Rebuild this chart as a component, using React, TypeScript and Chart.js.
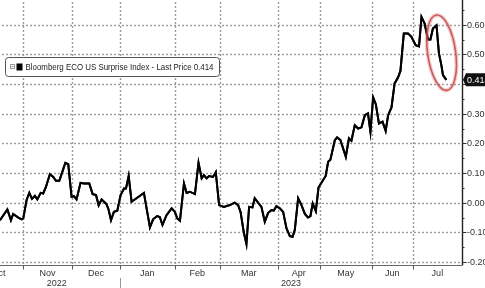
import React, { useEffect, useRef } from 'react';
import { Chart, registerables } from 'chart.js';

Chart.register(...registerables);

// x = business-day index counted from 1 Oct 2022
const dayIndex = [
  11.6, 14.9, 16.5, 17.5, 19.8, 21.3, 22.0, 23.5, 24.7, 25.9,
  27.2, 28.3, 29.8, 30.9, 32.1, 33.9, 35.4, 36.6, 38.1, 39.6,
  40.8, 42.1, 43.6, 44.6, 45.8, 47.6, 49.1, 51.5, 53.0, 54.5,
  55.7, 57.0, 59.2, 60.1, 61.2, 62.5, 64.0, 65.5, 67.0, 67.9,
  69.1, 70.4, 72.6, 75.9, 77.1, 78.6, 80.0, 81.8, 83.0, 84.2,
  86.0, 88.3, 89.7, 90.8, 92.0, 93.8, 95.0, 96.4, 98.7, 100.3,
  101.7, 102.7, 103.9, 105.0, 106.8, 108.0, 109.5, 111.6, 114.3, 116.5,
  118.0, 119.1, 120.5, 121.7, 122.9, 124.4, 125.4, 126.9, 128.4, 129.9,
  131.4, 132.9, 133.9, 135.1, 136.6, 138.1, 139.6, 141.1, 142.3, 143.3,
  144.8, 146.3, 147.8, 149.2, 150.3, 151.3, 152.7, 153.9, 155.4, 157.1,
  158.2, 159.2, 161.2, 162.2, 163.7, 166.1, 167.5, 168.6, 170.1, 171.6,
  173.1, 174.6, 176.0, 177.1, 178.3, 179.5, 180.9, 182.5, 183.9, 185.0,
  186.5, 187.9, 189.4, 190.5, 192.0, 193.9, 195.4, 197.3, 198.8, 199.9,
  201.3, 202.8, 203.9, 205.0, 206.6, 207.7, 208.8, 209.5, 211.0,
];

const surpriseIndex = [
  -0.059, -0.023, -0.059, -0.038, -0.050, -0.056, -0.053, 0.009, 0.033, 0.013,
  0.023, 0.011, 0.033, 0.031, 0.052, 0.096, 0.087, 0.074, 0.074, 0.107,
  0.134, 0.130, 0.020, 0.022, 0.011, 0.067, 0.065, 0.065, 0.029, 0.026,
  -0.009, 0.011, -0.005, -0.023, -0.059, -0.031, -0.027, 0.026, 0.048, 0.048,
  0.090, 0.003, 0.015, 0.033, -0.019, -0.083, -0.056, -0.045, -0.048, -0.075,
  -0.042, -0.019, -0.031, -0.053, -0.061, 0.065, 0.033, 0.037, 0.029, 0.134,
  0.082, 0.093, 0.082, 0.090, 0.087, 0.103, -0.008, -0.014, -0.008, 0.000,
  -0.008, -0.032, -0.099, -0.139, -0.014, -0.016, 0.015, 0.000, -0.014, -0.064,
  -0.034, -0.025, -0.027, -0.012, -0.019, -0.031, -0.087, -0.113, -0.115, -0.092,
  0.015, -0.008, -0.038, -0.050, -0.045, -0.003, -0.028, 0.051, 0.070, 0.090,
  0.138, 0.145, 0.211, 0.220, 0.211, 0.155, 0.217, 0.209, 0.261, 0.250,
  0.254, 0.295, 0.301, 0.239, 0.355, 0.332, 0.267, 0.273, 0.242, 0.295,
  0.321, 0.402, 0.422, 0.444, 0.570, 0.570, 0.559, 0.531, 0.527, 0.626,
  0.604, 0.550, 0.550, 0.587, 0.598, 0.503, 0.463, 0.430, 0.414,
];

const monthNames = ['Oct', 'Nov', 'Dec', 'Jan', 'Feb', 'Mar', 'Apr', 'May', 'Jun', 'Jul'];
const monthStarts = [0, 21.9, 43.8, 65.2, 89.7, 109.8, 135.7, 154.5, 177.7, 196.0, 218];
const yearLabels = ['2022', '2023'];
const yearCenters = [37, 141.6];
const yearDivider = 65.2;
const yTicks = [-0.2, -0.1, 0, 0.1, 0.2, 0.3, 0.4, 0.5, 0.6];
const yLabelsHidden = [0.4];
const lastPrice = 0.414;
const legendText = 'Bloomberg ECO US Surprise Index - Last Price 0.414';
const highlightCenter = { x: 208.9, y: 0.5055 };

const overlay = {
  id: 'overlay',
  afterDraw(chart: any) {
    const { ctx, chartArea: a, scales } = chart;
    const xs = scales.x;
    const ys = scales.y;
    const r = Math.round(a.right) + 0.5;
    const b = Math.round(a.bottom) + 0.5;

    // dotted grid
    ctx.save();
    ctx.strokeStyle = '#9a9a9a';
    ctx.lineWidth = 1.4;
    ctx.setLineDash([2, 2]);
    for (const v of yTicks) {
      const py = Math.round(ys.getPixelForValue(v)) + 0.5;
      ctx.beginPath();
      ctx.moveTo(a.left, py);
      ctx.lineTo(a.right, py);
      ctx.stroke();
    }
    for (let i = 1; i < monthStarts.length - 1; i++) {
      const px = Math.round(xs.getPixelForValue(monthStarts[i])) + 0.5;
      ctx.beginPath();
      ctx.moveTo(px, 0);
      ctx.lineTo(px, a.bottom);
      ctx.stroke();
    }
    ctx.setLineDash([]);
    ctx.strokeStyle = '#666';
    ctx.lineWidth = 1.2;
    ctx.beginPath();
    ctx.moveTo(a.left, b);
    ctx.lineTo(a.right, b);
    ctx.stroke();
    ctx.strokeStyle = '#222';
    ctx.lineWidth = 1.4;
    ctx.beginPath();
    ctx.moveTo(r, 0);
    ctx.lineTo(r, b);
    ctx.stroke();
    ctx.restore();

    // redraw the series line above the grid
    const meta = chart.getDatasetMeta(0);
    ctx.save();
    ctx.beginPath();
    ctx.rect(a.left, a.top - 5, a.right - a.left, a.bottom - a.top + 5);
    ctx.clip();
    meta.dataset.draw(ctx, a);
    ctx.restore();

    ctx.save();
    // right axis ticks & labels
    ctx.strokeStyle = '#333';
    ctx.lineWidth = 1;
    ctx.fillStyle = '#333';
    ctx.font = '9px "Liberation Sans", Arial, sans-serif';
    ctx.textAlign = 'left';
    ctx.textBaseline = 'middle';
    for (let i = 0; i < yTicks.length; i++) {
      const v = yTicks[i];
      const py = Math.round(ys.getPixelForValue(v)) + 0.5;
      ctx.beginPath();
      ctx.moveTo(r, py);
      ctx.lineTo(r + 4, py);
      ctx.stroke();
      const pm = Math.round(ys.getPixelForValue(v + 0.05)) + 0.5;
      ctx.beginPath();
      ctx.moveTo(r, pm);
      ctx.lineTo(r + 2, pm);
      ctx.stroke();
      if (!yLabelsHidden.includes(v)) {
        ctx.fillText(v.toFixed(3), r + 4.5, py);
      }
    }

    // x axis ticks & month labels
    ctx.strokeStyle = '#555';
    for (let i = 1; i < monthStarts.length - 1; i++) {
      const px = Math.round(xs.getPixelForValue(monthStarts[i])) + 0.5;
      ctx.beginPath();
      ctx.moveTo(px, b);
      ctx.lineTo(px, b + 4);
      ctx.stroke();
    }
    ctx.textAlign = 'center';
    ctx.fillStyle = '#333';
    for (let i = 0; i < monthNames.length; i++) {
      const c = (monthStarts[i] + monthStarts[i + 1]) / 2;
      ctx.fillText(monthNames[i], xs.getPixelForValue(c), a.bottom + 9);
    }
    for (let i = 0; i < yearLabels.length; i++) {
      ctx.fillText(yearLabels[i], xs.getPixelForValue(yearCenters[i]), a.bottom + 19);
    }
    ctx.strokeStyle = '#999';
    const dv = Math.round(xs.getPixelForValue(yearDivider)) + 0.5;
    ctx.beginPath();
    ctx.moveTo(dv, a.bottom + 13);
    ctx.lineTo(dv, a.bottom + 26);
    ctx.stroke();

    // last price tag
    const ty = ys.getPixelForValue(lastPrice);
    ctx.fillStyle = '#111';
    ctx.beginPath();
    ctx.moveTo(a.right + 1, ty);
    ctx.lineTo(a.right + 4, ty - 6.5);
    ctx.lineTo(a.right + 40, ty - 6.5);
    ctx.lineTo(a.right + 40, ty + 6.5);
    ctx.lineTo(a.right + 4, ty + 6.5);
    ctx.closePath();
    ctx.fill();
    ctx.fillStyle = '#fff';
    ctx.textAlign = 'left';
    ctx.fillText(lastPrice.toFixed(3), a.right + 5, ty + 0.5);

    // highlight ellipse
    const ex = xs.getPixelForValue(highlightCenter.x);
    const ey = ys.getPixelForValue(highlightCenter.y);
    ctx.strokeStyle = 'rgba(215,110,110,0.35)';
    ctx.lineWidth = 4;
    ctx.beginPath();
    ctx.ellipse(ex, ey, 14, 38, -0.14, 0, Math.PI * 2);
    ctx.stroke();
    ctx.strokeStyle = 'rgba(200,70,70,0.85)';
    ctx.lineWidth = 1.6;
    ctx.beginPath();
    ctx.ellipse(ex, ey, 14, 38, -0.14, 0, Math.PI * 2);
    ctx.stroke();

    // legend box
    const lx = a.left + 31.5;
    const ly = a.top + 62.5;
    const lw = 214;
    const lh = 19;
    ctx.fillStyle = '#fff';
    ctx.strokeStyle = '#555';
    ctx.lineWidth = 1;
    ctx.beginPath();
    ctx.roundRect(lx, ly, lw, lh, 3);
    ctx.fill();
    ctx.stroke();
    ctx.strokeStyle = '#999';
    ctx.strokeRect(lx + 5, ly + 7, 4, 4);
    ctx.beginPath();
    ctx.moveTo(lx + 6, ly + 9);
    ctx.lineTo(lx + 8, ly + 9);
    ctx.stroke();
    ctx.fillStyle = '#000';
    ctx.fillRect(lx + 11, ly + 6, 6, 7);
    ctx.fillStyle = '#222';
    ctx.font = '9.5px "Liberation Sans", Arial, sans-serif';
    ctx.textAlign = 'left';
    ctx.textBaseline = 'middle';
    ctx.fillText(legendText, lx + 20, ly + lh / 2 + 0.5, 188);
    ctx.restore();
  },
};

export default function App() {
  const ref = useRef<HTMLCanvasElement>(null);
  useEffect(() => {
    const points = dayIndex.map((d, i) => ({ x: d, y: surpriseIndex[i] }));
    const chart = new Chart(ref.current as HTMLCanvasElement, {
      type: 'line',
      data: {
        datasets: [
          {
            label: 'Bloomberg ECO US Surprise Index',
            data: points,
            borderColor: '#000',
            borderWidth: 2,
            pointRadius: 0,
            tension: 0,
            fill: false,
          },
        ],
      },
      options: {
        responsive: false,
        animation: false,
        devicePixelRatio: 1,
        layout: { padding: { left: 14, top: 5, right: 98, bottom: 45 } },
        plugins: { legend: { display: false }, tooltip: { enabled: false } },
        scales: {
          x: { type: 'linear', min: 0, max: 218, display: false },
          y: { type: 'linear', position: 'right', min: -0.21, max: 0.7, display: false },
        },
      },
      plugins: [overlay],
    });
    return () => chart.destroy();
  }, []);

  return (
    <div
      style={{
        position: 'fixed',
        left: 0,
        top: 0,
        width: 485,
        height: 288,
        overflow: 'hidden',
        background: '#fff',
      }}
    >
      <canvas
        ref={ref}
        width={600}
        height={320}
        style={{ position: 'absolute', left: -40, top: -10, width: 600, height: 320 }}
      />
    </div>
  );
}
